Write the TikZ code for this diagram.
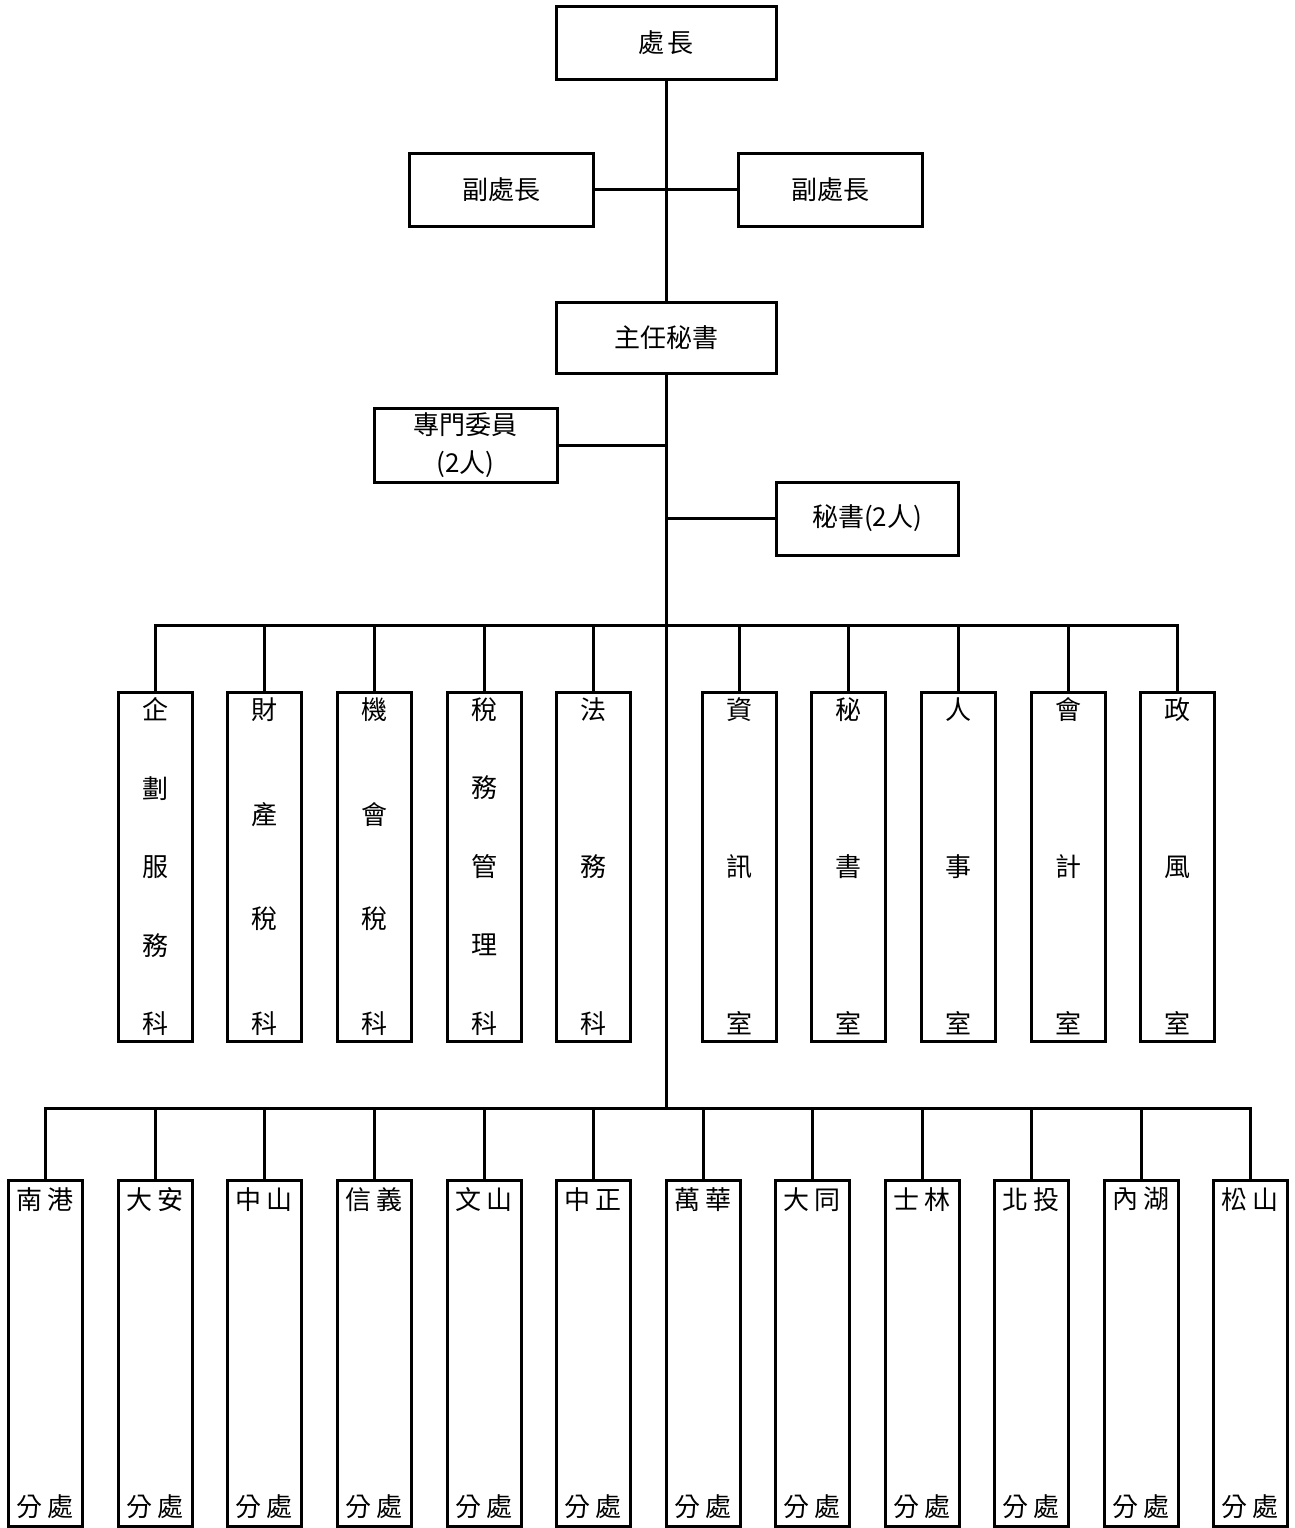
\documentclass[tikz,border=0pt]{standalone}
\usepackage{fontspec}
\usepackage{tikz}
\usetikzlibrary{calc,positioning}
\newfontfamily\cjk{Noto Sans CJK TC}
\newcommand{\brk}{\par\vfill}
\newcommand{\vcol}[2]{\raisebox{-3pt}{\parbox[c][#1][s]{70pt}{\centering #2\par}}}
\tikzstyle{postbox}   = [draw=black, line width=3pt, minimum width=220pt, minimum height=72pt, inner sep=0pt, font=\cjk\fontsize{26}{38}\selectfont, align=center]
\tikzstyle{unitbox}   = [draw=black, line width=3pt, minimum width=74pt, minimum height=349pt, inner sep=0pt, font=\cjk\fontsize{26}{30}\selectfont]
\tikzstyle{branchbox} = [draw=black, line width=3pt, minimum width=74pt, minimum height=346pt, inner sep=0pt, font=\cjk\fontsize{26}{30}\selectfont]
\tikzstyle{link}      = [line width=3pt]

\begin{document}
\begin{tikzpicture}[x=1pt, y=-1pt]
	\useasboundingbox (0,0) rectangle (1295,1528);

	% top posts
	\node[postbox] (chief) at (666,43) {處\hspace{4pt}長};
	\node[postbox, minimum width=184pt, minimum height=73pt] (deputyL) at (501.5,189.5) {副處長};
	\node[postbox, minimum width=184pt, minimum height=73pt] (deputyR) at (830,189.5) {副處長};
	\node[postbox, minimum height=71pt] (chiefsec) at (666,337.5) {主任秘書};
	\node[postbox, minimum width=183pt, minimum height=74pt] (counsel) at (465.5,445) {\raisebox{-3pt}{專門委員}\\\raisebox{-3pt}{(2人)}};
	\node[postbox, minimum width=182pt, minimum height=73pt] (sec) at (867,518.5) {秘書(2人)};

	\coordinate (trunkA) at (666,625);
	\coordinate (trunkB) at (666,1108);

	\draw[link] (chief.south) -- (chiefsec.north);
	\draw[link] (chiefsec.south) -- (trunkB);
	\draw[link] (deputyL.east) -- (deputyR.west);
	\draw[link] (counsel.east) -- (counsel.east -| chiefsec.south);
	\draw[link] (sec.west) -- (sec.west -| chiefsec.south);

	% sections and offices
	\foreach \x/\name/\txt in {
			155/plan/企\brk 劃\brk 服\brk 務\brk 科,
			264/prop/財\brk 產\brk 稅\brk 科,
			374/lux/機\brk 會\brk 稅\brk 科,
			484/admin/稅\brk 務\brk 管\brk 理\brk 科,
			593/legal/法\brk 務\brk 科,
			739/info/資\brk 訊\brk 室,
			848/secr/秘\brk 書\brk 室,
			958/pers/人\brk 事\brk 室,
			1068/acct/會\brk 計\brk 室,
			1177/ethic/政\brk 風\brk 室}{
		\node[unitbox] (\name) at (\x,866.5) {\vcol{336pt}{\txt}};
		\draw[link] (\name.north) |- (trunkA);
	}

	% district branches
	\foreach \x/\name/\a/\b in {
			45/ng/南/港, 155/da/大/安, 264/zs/中/山, 374/xy/信/義,
			484/ws/文/山, 593/zz/中/正, 703/wh/萬/華, 812/dt/大/同,
			922/sl/士/林, 1031/bt/北/投, 1141/nh/內/湖, 1250/ss/松/山}{
		\node[branchbox] (\name) at (\x,1353) {\vcol{329pt}{\a\hspace{5pt}\b\brk 分\hspace{5pt}處}};
		\draw[link] (\name.north) |- (trunkB);
	}
\end{tikzpicture}
\end{document}
